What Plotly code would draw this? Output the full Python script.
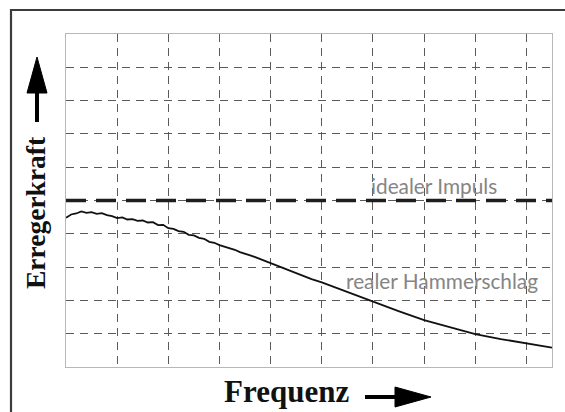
import plotly.graph_objects as go

# ---- data (arbitrary units, grid = 1 unit) ----
freq = [0.0, 0.1, 0.2, 0.3, 0.4, 0.5, 0.6, 0.7, 0.8, 0.9,
        1.0, 1.1, 1.2, 1.3, 1.4, 1.5, 1.6, 1.7, 1.8, 1.9,
        2.0, 2.1, 2.2, 2.3, 2.4, 2.5, 2.6, 2.7, 2.8, 2.9,
        3.0, 3.1, 3.2, 3.3, 3.4, 3.5, 3.6, 3.7, 3.8, 3.9,
        4.0, 4.2, 4.4, 4.6, 4.8, 5.0, 5.5, 6.0, 6.5, 7.0,
        7.5, 8.0, 8.5, 9.0, 9.5]
hammer_force = [4.48, 4.58, 4.61, 4.67, 4.63, 4.65, 4.60, 4.62, 4.56, 4.53,
                4.47, 4.49, 4.43, 4.44, 4.39, 4.40, 4.34, 4.35, 4.26, 4.27,
                4.17, 4.15, 4.08, 4.06, 3.97, 3.95, 3.88, 3.85, 3.76, 3.73,
                3.66, 3.62, 3.56, 3.52, 3.45, 3.41, 3.35, 3.30, 3.23, 3.18,
                3.12, 3.00, 2.87, 2.75, 2.64, 2.54, 2.25, 1.98, 1.68, 1.41,
                1.19, 0.99, 0.84, 0.72, 0.58]
ideal_freq = [0.0, 9.5]
ideal_force = [5.0, 5.0]

x_label = "Frequenz"
y_label = "Erregerkraft"
ideal_text = "idealer Impuls"
real_text = "realer Hammerschlag"

# ---- layout geometry (pixels) ----
W, H = 565, 412
L, R, T, B = 66, 552, 34, 367


def px(x):
    return (x - L) / (R - L)


def py(y):
    return (B - y) / (B - T)


fig = go.Figure()
fig.add_trace(go.Scatter(x=ideal_freq, y=ideal_force, mode="lines",
                         line=dict(color="#1e1e1e", width=3.5, dash="20px,10px"),
                         hoverinfo="skip", showlegend=False))
fig.add_trace(go.Scatter(x=freq, y=hammer_force, mode="lines",
                         line=dict(color="#111111", width=1.8),
                         showlegend=False))

grid = dict(showgrid=True, gridcolor="#5a5a5a", gridwidth=1.3, griddash="8px,6px",
            showticklabels=False, ticks="", zeroline=False,
            showline=True, mirror=True, linecolor="#b8b8b8", linewidth=1)
fig.update_xaxes(range=[0, 9.5], tick0=0, dtick=1, **grid)
fig.update_yaxes(range=[0, 10], tick0=0, dtick=1, **grid)

shapes = []
# outer frame (open at right and bottom: cropped)
shapes.append(dict(type="path", xref="paper", yref="paper",
                   path=f"M {px(11)} {py(420)} L {px(11)} {py(10)} L {px(580)} {py(10)}",
                   line=dict(color="#3c3c3c", width=2.2)))
# y arrow
shapes.append(dict(type="line", xref="paper", yref="paper",
                   x0=px(37), x1=px(37), y0=py(122), y1=py(90),
                   line=dict(color="#000", width=4)))
shapes.append(dict(type="path", xref="paper", yref="paper",
                   path=f"M {px(27)} {py(93)} L {px(37)} {py(57)} L {px(47)} {py(93)} Z",
                   fillcolor="#000", line=dict(color="#000", width=1)))
# x arrow
shapes.append(dict(type="line", xref="paper", yref="paper",
                   x0=px(365), x1=px(398), y0=py(397), y1=py(397),
                   line=dict(color="#000", width=4)))
shapes.append(dict(type="path", xref="paper", yref="paper",
                   path=f"M {px(395)} {py(387)} L {px(431)} {py(397)} L {px(395)} {py(407)} Z",
                   fillcolor="#000", line=dict(color="#000", width=1)))

serif = "Liberation Serif"
ann = [
    dict(text=f"<b>{y_label}</b>", x=px(35), y=py(213), textangle=-90,
         font=dict(family=serif, size=27.5, color="#111")),
    dict(text=f"<b>{x_label}</b>", x=px(286), y=py(391),
         font=dict(family=serif, size=31, color="#111")),
    dict(text=ideal_text, x=px(369), y=py(185), xanchor="left",
         font=dict(family="Lato", size=20.8, color="#858585")),
    dict(text=real_text, x=px(344), y=py(280), xanchor="left",
         font=dict(family="Lato", size=20.8, color="#858585")),
]
for a in ann:
    a.update(xref="paper", yref="paper", showarrow=False)
    a.setdefault("xanchor", "center")
    a.setdefault("yanchor", "middle")

fig.update_layout(width=W, height=H, margin=dict(l=L, r=W - R, t=T, b=H - B),
                  paper_bgcolor="white", plot_bgcolor="white",
                  shapes=shapes, annotations=ann)
fig.write_html("out.html", config={"displayModeBar": False},
               post_script="document.body.style.margin='0';document.body.style.overflow='hidden';")
